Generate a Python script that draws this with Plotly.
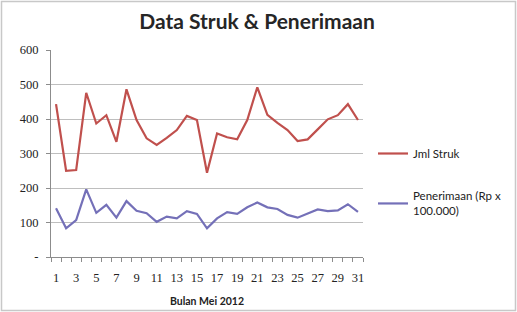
import plotly.graph_objects as go

days = list(range(1, 32))
jml_struk = [443, 250, 252, 476, 387, 411, 334, 486, 397, 344, 325, 345, 368, 409, 397,
             244, 358, 347, 341, 397, 492, 412, 389, 368, 336, 341, 370, 399, 411, 443, 397]
penerimaan = [141, 83, 107, 196, 128, 151, 114, 162, 134, 127, 102, 117, 112, 133, 125,
              83, 112, 130, 125, 144, 158, 144, 139, 122, 114, 127, 138, 133, 135, 153, 131]
y_ticks = [0, 100, 200, 300, 400, 500, 600]
y_tick_labels = ["-", "100", "200", "300", "400", "500", "600"]
x_tick_vals = list(range(1, 32, 2))

W, H = 517, 312
L, R, T, B = 51, 154, 50, 55
pw, ph = W - L - R, H - T - B

fig = go.Figure()
fig.add_trace(go.Scatter(x=days, y=jml_struk, mode="lines", name="Jml Struk",
                         line=dict(color="#C0504D", width=2.2), legendgroup="a"))
fig.add_trace(go.Scatter(x=days, y=penerimaan, mode="lines", name="Penerimaan (Rp x<br>100.000)",
                         line=dict(color="#7470B8", width=2.2), legendgroup="b"))

def px_x(px):
    return (px - L) / pw

def px_y(py):
    return (H - B - py) / ph

fig.update_layout(
    width=W, height=H,
    margin=dict(l=L, r=R, t=T, b=B, autoexpand=False),
    paper_bgcolor="white", plot_bgcolor="white",
    title=dict(text="<b>Data Struk & Penerimaan</b>", x=257 / W, xanchor="center",
               y=1 - 22 / H, yanchor="middle",
               font=dict(family="Lato", size=21, color="#262626")),
    xaxis=dict(range=[0.5, 31.5], tickmode="array", tickvals=x_tick_vals,
               ticktext=[str(v) for v in x_tick_vals], automargin=False,
               showgrid=False, zeroline=False, showline=True, linecolor="#8C8C8C", linewidth=1,
               ticks="", ticklabelstandoff=9,
               minor=dict(ticks="outside", tick0=0.5, dtick=1, ticklen=4, tickcolor="#8C8C8C",
                          showgrid=False),
               tickfont=dict(family="Liberation Serif", size=12.5, color="#222"),
               title=dict(text="<b>Bulan Mei 2012</b>", font=dict(family="Lato", size=10.5, color="#222"),
                          standoff=13),
               fixedrange=True),
    yaxis=dict(range=[0, 600], tickmode="array", tickvals=y_ticks, ticktext=y_tick_labels,
               showgrid=True, gridcolor="#BEBEBE", gridwidth=1, zeroline=False, automargin=False,
               showline=True, linecolor="#8C8C8C", linewidth=1,
               ticks="outside", ticklen=4, tickcolor="#8C8C8C", ticklabelstandoff=5,
               tickfont=dict(family="Liberation Serif", size=12.5, color="#222"), fixedrange=True),
    legend=dict(x=px_x(373), y=px_y(139), xanchor="left", yanchor="top",
                font=dict(family="Lato", size=11.5, color="#222"),
                traceorder="grouped", tracegroupgap=24, itemwidth=30,
                bgcolor="rgba(0,0,0,0)"),
    shapes=[dict(type="rect", xref="paper", yref="paper",
                 x0=px_x(1.5), x1=px_x(515.5), y0=px_y(310.5), y1=px_y(1.5),
                 line=dict(color="#C8C8C8", width=1.5), fillcolor="rgba(0,0,0,0)", layer="below")],
    showlegend=True,
)

fig.write_html("out.html")
